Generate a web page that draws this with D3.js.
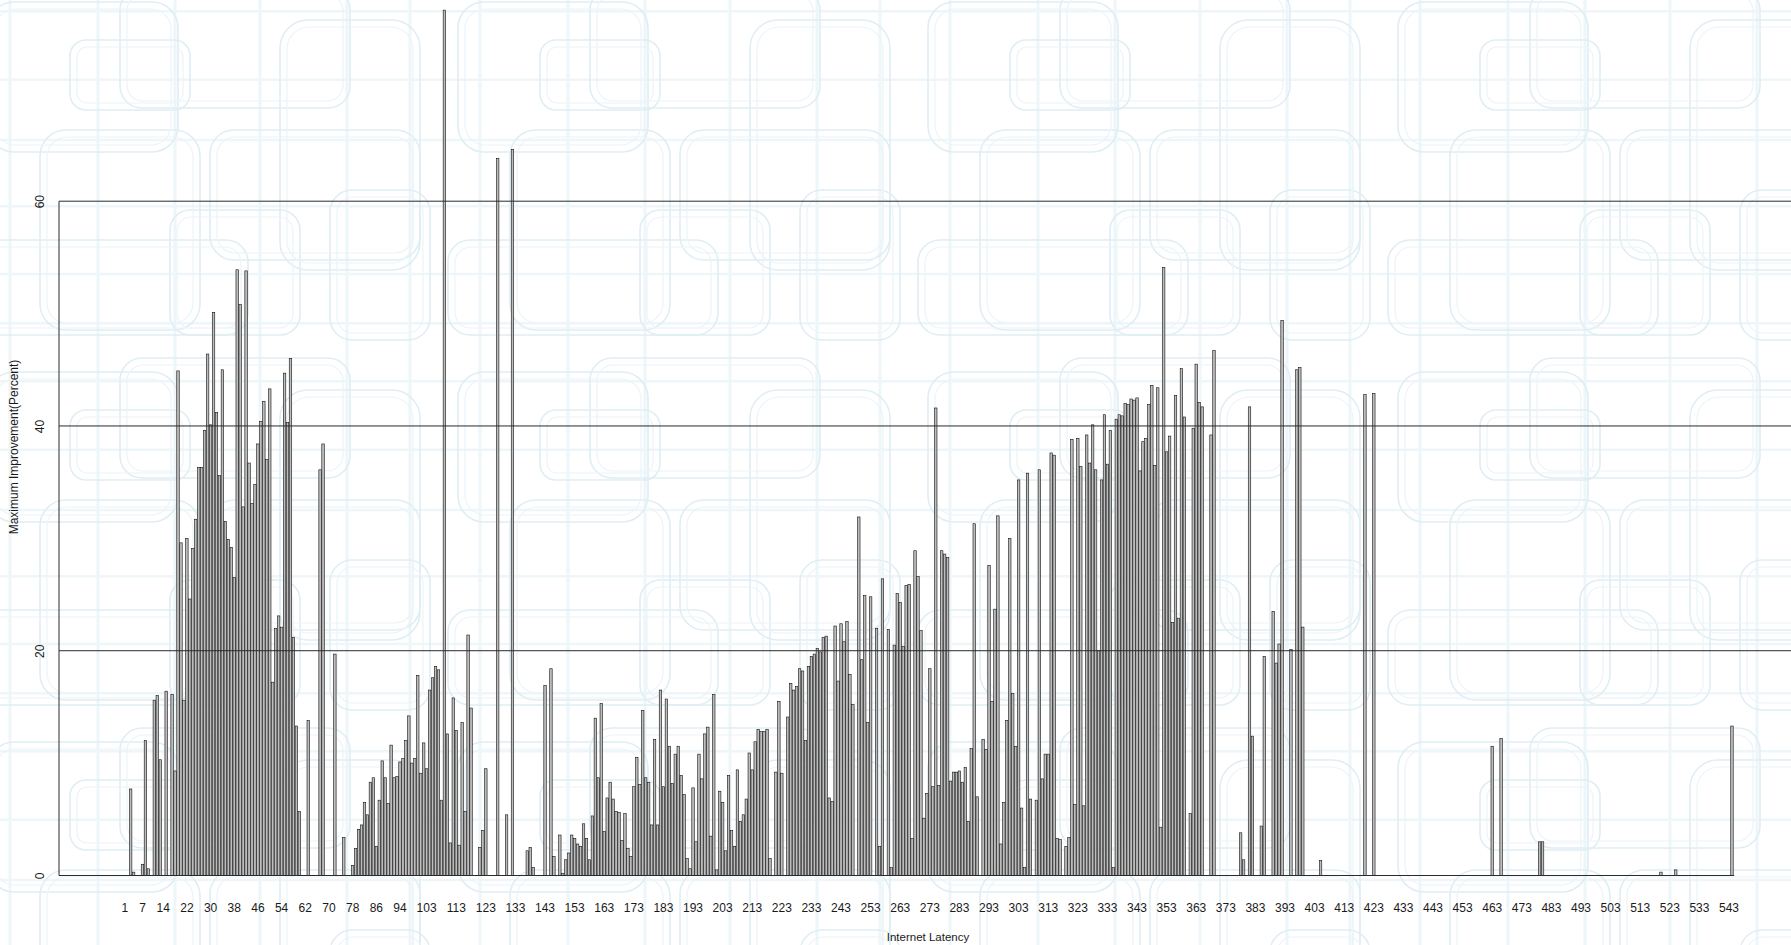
<!DOCTYPE html>
<html>
<head>
<meta charset="utf-8">
<script src="https://cdn.jsdelivr.net/npm/d3@7"></script>
<style>
  html, body { margin: 0; padding: 0; background: #ffffff; overflow: hidden; }
  svg { display: block; font-family: "Liberation Sans", Arial, Helvetica, sans-serif; }
</style>
</head>
<body>
<svg id="chart" width="1791" height="945"></svg>
<script>
// Latency categories (one bar per millisecond value)
const latency = d3.range(1, 545);

// Maximum improvement (%) for each latency value, rows of ten
const improvement = [
  0, 0, 7.7, 0.3, 0, 0, 1.0, 12.0, 0.6, 0,
  15.6, 16.0, 10.3, 0, 16.4, 0, 16.1, 9.3, 44.9, 29.6,
  15.6, 30.0, 24.6, 29.1, 31.7, 36.3, 36.3, 39.6, 46.4, 40.1,
  50.1, 41.2, 35.6, 45.0, 31.5, 29.9, 29.2, 26.5, 53.9, 50.8,
  32.8, 53.8, 36.7, 33.1, 34.8, 38.4, 40.4, 42.2, 37.0, 43.3,
  17.2, 22.0, 23.1, 22.1, 44.7, 40.3, 46.0, 21.2, 13.3, 5.7,
  0, 0, 13.8, 0, 0, 0, 36.1, 38.4, 0, 0,
  0, 19.7, 0, 0, 3.4, 0, 0, 0.9, 2.4, 4.1,
  4.5, 6.5, 5.4, 8.3, 8.7, 2.6, 6.7, 10.2, 8.7, 6.4,
  11.6, 8.7, 8.8, 10.1, 10.4, 12.0, 14.2, 10.0, 10.4, 17.8,
  9.1, 11.8, 9.5, 16.5, 17.6, 18.6, 18.3, 6.7, 77.0, 12.6,
  2.9, 15.8, 12.9, 2.7, 13.6, 5.7, 21.4, 14.9, 0, 0,
  2.5, 4.0, 9.5, 0, 0, 0, 63.8, 0, 0, 5.4,
  0, 64.6, 0, 0, 0, 0, 2.2, 2.5, 0.7, 0,
  0, 0, 16.9, 0, 18.4, 1.7, 0, 3.6, 0.2, 1.4,
  2.0, 3.6, 3.3, 2.8, 2.6, 4.6, 3.3, 1.4, 5.3, 14.0,
  8.7, 15.3, 3.9, 6.9, 8.3, 6.8, 5.7, 5.6, 3.1, 5.5,
  2.4, 1.7, 7.9, 10.5, 8.1, 14.7, 8.7, 8.3, 4.5, 12.1,
  4.5, 16.5, 7.9, 15.7, 11.5, 8.2, 10.8, 11.5, 8.9, 7.2,
  1.5, 0.6, 7.8, 3.0, 10.8, 8.6, 12.6, 13.2, 3.5, 16.1,
  0.5, 7.5, 6.5, 2.2, 8.9, 4.0, 2.6, 9.4, 4.8, 5.4,
  6.8, 10.9, 9.4, 11.9, 13.0, 12.8, 12.8, 13.0, 1.5, 0,
  9.2, 15.5, 9.1, 0, 14.1, 17.1, 16.5, 16.8, 18.4, 18.2,
  12.0, 18.6, 19.5, 19.7, 20.2, 19.9, 21.2, 21.3, 6.9, 6.6,
  22.2, 17.3, 22.4, 20.8, 22.6, 17.9, 15.2, 0, 31.9, 19.2,
  24.9, 13.6, 24.8, 0, 22.0, 2.6, 26.4, 0, 21.9, 0.7,
  20.5, 25.1, 24.3, 20.4, 25.8, 25.9, 3.3, 28.9, 26.6, 21.8,
  5.1, 7.3, 18.4, 7.9, 41.6, 8.0, 28.9, 28.6, 28.3, 8.4,
  9.2, 9.2, 9.3, 8.3, 9.6, 4.8, 11.3, 31.3, 7.0, 0,
  12.1, 11.2, 27.6, 15.5, 23.7, 32.0, 2.8, 6.5, 13.8, 30.0,
  16.2, 11.5, 35.2, 6.0, 0.7, 35.8, 6.8, 0, 6.7, 36.1,
  8.6, 10.8, 10.8, 37.6, 37.4, 3.3, 3.2, 0, 2.6, 3.4,
  38.8, 6.3, 38.9, 36.4, 6.2, 39.2, 36.7, 40.1, 36.1, 20.0,
  35.2, 41.0, 36.6, 39.6, 0.7, 40.6, 41.0, 40.9, 42.0, 41.9,
  42.4, 42.3, 42.5, 36.0, 38.6, 38.9, 41.9, 43.6, 36.5, 43.4,
  4.3, 54.1, 37.7, 39.1, 22.5, 42.7, 22.9, 45.1, 40.8, 0,
  5.5, 39.8, 45.5, 42.1, 41.7, 0, 0, 39.2, 46.7, 0,
  0, 0, 0, 0, 0, 0, 0, 3.8, 1.4, 0,
  41.7, 12.4, 0, 0, 4.4, 19.5, 0, 0, 23.5, 18.9,
  20.6, 49.4, 0, 0, 20.1, 0, 45.0, 45.2, 22.1, 0,
  0, 0, 0, 0, 1.35, 0, 0, 0, 0, 0,
  0, 0, 0, 0, 0, 0, 0, 0, 0, 42.8,
  0, 0, 42.9, 0, 0, 0, 0, 0, 0, 0,
  0, 0, 0, 0, 0, 0, 0, 0, 0, 0,
  0, 0, 0, 0, 0, 0, 0, 0, 0, 0,
  0, 0, 0, 0, 0, 0, 0, 0, 0, 0,
  0, 0, 11.5, 0, 0, 12.2, 0, 0, 0, 0,
  0, 0, 0, 0, 0, 0, 0, 0, 3.0, 3.0,
  0, 0, 0, 0, 0, 0, 0, 0, 0, 0,
  0, 0, 0, 0, 0, 0, 0, 0, 0, 0,
  0, 0, 0, 0, 0, 0, 0, 0, 0, 0,
  0, 0, 0, 0, 0, 0, 0, 0, 0, 0.3,
  0, 0, 0, 0, 0.5, 0, 0, 0, 0, 0,
  0, 0, 0, 0, 0, 0, 0, 0, 0, 0,
  0, 0, 0, 13.3
];

// Category labels printed under the axis
const xTickLabels = [
  1, 7, 14, 22, 30, 38, 46, 54, 62, 70, 78, 86, 94,
  103, 113, 123, 133, 143, 153, 163, 173, 183, 193, 203, 213, 223, 233, 243,
  253, 263, 273, 283, 293, 303, 313, 323, 333, 343, 353, 363, 373, 383, 393,
  403, 413, 423, 433, 443, 453, 463, 473, 483, 493, 503, 513, 523, 533, 543
];
const yTickValues = [0, 20, 40, 60];
const gridLevels = [20, 40, 60];

const W = 1791, H = 945;
const svg = d3.select("#chart");

// ---- wallpaper: a repeating tile of faint rounded frames ----
const wallTile = [
  [18, 22, 190, 150, 26], [150, 8, 230, 120, 22], [70, 150, 160, 200, 26],
  [240, 150, 210, 130, 24], [310, 40, 140, 250, 28], [8, 260, 270, 95, 22],
  [200, 230, 130, 125, 20], [360, 210, 100, 150, 22], [100, 60, 120, 70, 16]
];
const wallStripes = [40, 128, 205, 290, 377, 440];
const defs = svg.append("defs");
const pat = defs.append("pattern")
  .attr("id", "wall").attr("patternUnits", "userSpaceOnUse")
  .attr("x", -30).attr("y", -20)
  .attr("width", 470).attr("height", 370);
pat.selectAll("line.v").data(wallStripes).join("line")
  .attr("class", "v")
  .attr("x1", d => d).attr("x2", d => d).attr("y1", 0).attr("y2", 370)
  .attr("stroke", "#edf6f9").attr("stroke-width", 3);
pat.selectAll("line.h").data(wallStripes).join("line")
  .attr("class", "h")
  .attr("y1", d => d * 0.78).attr("y2", d => d * 0.78).attr("x1", 0).attr("x2", 470)
  .attr("stroke", "#eef6f9").attr("stroke-width", 2.5);
pat.selectAll("rect.outer").data(wallTile).join("rect")
  .attr("class", "outer")
  .attr("x", d => d[0]).attr("y", d => d[1])
  .attr("width", d => d[2]).attr("height", d => d[3])
  .attr("rx", d => d[4])
  .attr("fill", "none").attr("stroke", "#dfeef4").attr("stroke-width", 1.6);
pat.selectAll("rect.inner").data(wallTile).join("rect")
  .attr("class", "inner")
  .attr("x", d => d[0] + 7).attr("y", d => d[1] + 7)
  .attr("width", d => d[2] - 14).attr("height", d => d[3] - 14)
  .attr("rx", d => d[4] - 6)
  .attr("fill", "none").attr("stroke", "#ebf4f8").attr("stroke-width", 1.2);

svg.append("rect").attr("width", W).attr("height", H).attr("fill", "#ffffff");
svg.append("rect").attr("width", W).attr("height", H).attr("fill", "url(#wall)");

// ---- scales ----
const x = d3.scaleBand()
  .domain(latency)
  .range([123.0, 1733.7])
  .paddingInner(1 / 6)
  .paddingOuter(1 / 6);
const y = d3.scaleLinear().domain([0, 60]).range([875.5, 201.2]);
const plotLeft = 59;

// ---- bars ----
svg.append("g").attr("class", "bars")
  .selectAll("rect")
  .data(latency)
  .join("rect")
  .attr("x", d => x(d))
  .attr("width", x.bandwidth())
  .attr("y", (d, k) => y(improvement[k]))
  .attr("height", (d, k) => y(0) - y(improvement[k]))
  .attr("fill", "#bdbdbd")
  .attr("stroke", "#111111")
  .attr("stroke-width", 0.6);

// ---- reference lines and frame ----
const lines = svg.append("g").attr("class", "frame")
  .attr("stroke", "#2a2a2a").attr("stroke-width", 1).attr("fill", "none");
lines.selectAll("line.grid").data(gridLevels).join("line")
  .attr("class", "grid")
  .attr("x1", plotLeft).attr("x2", W)
  .attr("y1", d => y(d)).attr("y2", d => y(d));
lines.append("line")
  .attr("x1", plotLeft).attr("x2", x(latency[latency.length - 1]) + x.bandwidth() + 1)
  .attr("y1", y(0)).attr("y2", y(0));
lines.append("line")
  .attr("x1", plotLeft).attr("x2", plotLeft)
  .attr("y1", y(60)).attr("y2", y(0));

// ---- axes ----
const xAxis = d3.axisBottom(x)
  .tickValues(xTickLabels)
  .tickSize(0)
  .tickPadding(28);
const gx = svg.append("g").attr("transform", `translate(0,${y(0)})`).call(xAxis);
gx.select(".domain").remove();
gx.selectAll("text").attr("font-size", 12).attr("fill", "#1a1a1a")
  .attr("font-family", "'Liberation Sans', Arial, sans-serif");

const yAxis = d3.axisLeft(y).tickValues(yTickValues).tickSize(0);
const gy = svg.append("g").attr("transform", `translate(${plotLeft},0)`).call(yAxis);
gy.select(".domain").remove();
gy.selectAll("text")
  .attr("transform", "rotate(-90)")
  .attr("x", 0).attr("y", -19).attr("dy", "0.35em")
  .attr("text-anchor", "middle")
  .attr("font-size", 12).attr("fill", "#1a1a1a")
  .attr("font-family", "'Liberation Sans', Arial, sans-serif");

// ---- axis titles ----
svg.append("text")
  .attr("x", 928).attr("y", 941)
  .attr("text-anchor", "middle")
  .attr("font-size", 11.5).attr("fill", "#1a1a1a")
  .text("Internet Latency");
svg.append("text")
  .attr("transform", "translate(18,447) rotate(-90)")
  .attr("text-anchor", "middle")
  .attr("font-size", 12).attr("fill", "#1a1a1a")
  .text("Maximum Improvement(Percent)");
</script>
</body>
</html>
